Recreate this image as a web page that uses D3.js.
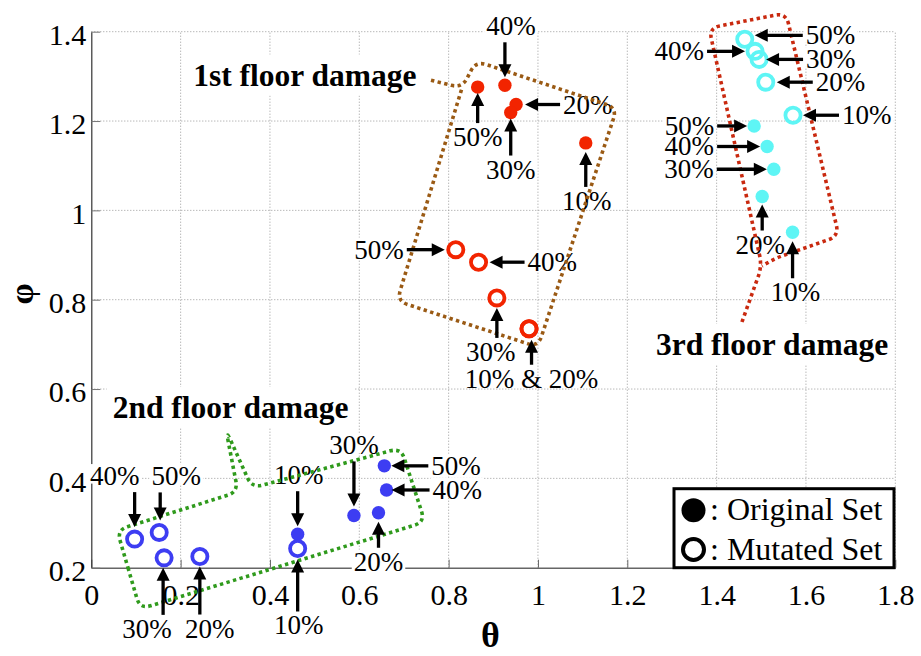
<!DOCTYPE html>
<html>
<head>
<meta charset="utf-8">
<script src="https://cdn.jsdelivr.net/npm/d3@7"></script>
<style>
  html, body { margin: 0; padding: 0; background: #fff; }
  svg { display: block; }
</style>
</head>
<body>
<svg id="chart" width="921" height="656"></svg>
<script>
// Damage levels shared by every set
const levels = ["10%", "20%", "30%", "40%", "50%"];

// 1st floor damage (theta, phi), one entry per damage level
const f1OrigTheta = [1.107, 0.951, 0.939, 0.926, 0.865];
const f1OrigPhi   = [1.151, 1.237, 1.219, 1.280, 1.276];
const f1MutTheta  = [0.980, 0.980, 0.908, 0.867, 0.816];
const f1MutPhi    = [0.735, 0.735, 0.804, 0.884, 0.912];

// 2nd floor damage
const f2OrigTheta = [0.462, 0.643, 0.588, 0.661, 0.656];
const f2OrigPhi   = [0.275, 0.323, 0.317, 0.374, 0.428];
const f2MutTheta  = [0.462, 0.243, 0.163, 0.097, 0.152];
const f2MutPhi    = [0.243, 0.225, 0.222, 0.264, 0.279];

// 3rd floor damage
const f3OrigTheta = [1.570, 1.502, 1.528, 1.513, 1.484];
const f3OrigPhi   = [0.951, 1.031, 1.092, 1.143, 1.189];
const f3MutTheta  = [1.571, 1.510, 1.495, 1.486, 1.463];
const f3MutPhi    = [1.213, 1.287, 1.338, 1.356, 1.383];

// Axis ticks
const xTicks = [0, 0.2, 0.4, 0.6, 0.8, 1.0, 1.2, 1.4, 1.6, 1.8];
const xTickLabels = ["0", "0.2", "0.4", "0.6", "0.8", "1", "1.2", "1.4", "1.6", "1.8"];
const yTicks = [0.2, 0.4, 0.6, 0.8, 1.0, 1.2, 1.4];
const yTickLabels = ["0.2", "0.4", "0.6", "0.8", "1", "1.2", "1.4"];

// Cluster outlines drawn around each floor's points (theta, phi)
const f1Outline = [[0.7605, 1.2914], [0.8299, 1.2739], [0.8612, 1.3343], [1.1769, 1.2291],
                   [1.0000, 0.6940], [0.6844, 0.7970], [0.8299, 1.2739]];
const f2Outline = [[0.0833, 0.1960], [0.0575, 0.2844], [0.3284, 0.3695], [0.3016, 0.5083],
                   [0.3598, 0.3785], [0.6933, 0.4680], [0.7470, 0.3023], [0.1090, 0.1075],
                   [0.0833, 0.1960]];
const f3Outline = [[1.4567, 0.7501], [1.5015, 0.8755], [1.3828, 1.4082], [1.5552, 1.4418],
                   [1.6738, 0.9426], [1.5328, 0.8933], [1.5015, 0.8755]];

// Cluster titles: text and where the text starts (theta, phi of baseline)
const titles = [
  { text: "1st floor damage", at: [0.2281, 1.2795] },
  { text: "2nd floor damage", at: [0.0479, 0.5351] },
  { text: "3rd floor damage", at: [1.2642, 0.6762] }
];

// Arrow call-outs: which level, side the arrow comes from, gap / length in px
const f1OrigNotes = [
  { i: 0, side: "S", gap: 9, len: 35, dx: 1 },
  { i: 1, side: "E", gap: 9, len: 35 },
  { i: 2, side: "S", gap: 6, len: 37 },
  { i: 3, side: "N", gap: 8, len: 35, dx: 6 },
  { i: 4, side: "S", gap: 6, len: 30 }
];
const f1MutNotes = [
  { i: 0, also: 1, side: "S", gap: 11, len: 25, off: 2.5, bg: false },
  { i: 2, side: "S", gap: 10, len: 30, dx: -6 },
  { i: 3, side: "E", gap: 11, len: 35 },
  { i: 4, side: "W", gap: 11, len: 38 }
];
const f2OrigNotes = [
  { i: 0, side: "N", gap: 8, len: 35, dx: 1 },
  { i: 1, side: "S", gap: 9, len: 26 },
  { i: 2, side: "N", gap: 9, len: 45 },
  { i: 3, side: "E", gap: 5, len: 38 },
  { i: 4, side: "E", gap: 7, len: 37 }
];
const f2MutNotes = [
  { i: 0, side: "S", gap: 11, len: 52, dx: 1 },
  { i: 1, side: "S", gap: 10, len: 48, dx: 10 },
  { i: 2, side: "S", gap: 10, len: 47, dx: -16, off: -1 },
  { i: 3, side: "N", gap: 12, len: 35, dx: -20 },
  { i: 4, side: "N", gap: 12, len: 28, dx: 16, off: 1 }
];
const f3OrigNotes = [
  { i: 0, side: "S", gap: 9, len: 37, dx: 3 },
  { i: 1, side: "S", gap: 8, len: 26, dx: -2 },
  { i: 2, side: "W", gap: 7, len: 50 },
  { i: 3, side: "W", gap: 7, len: 43 },
  { i: 4, side: "W", gap: 7, len: 30 }
];
const f3MutNotes = [
  { i: 0, side: "E", gap: 10, len: 36 },
  { i: 1, side: "E", gap: 11, len: 36 },
  { i: 2, side: "E", gap: 7, len: 37 },
  { i: 3, side: "W", gap: 10, len: 38 },
  { i: 4, side: "E", gap: 10, len: 48, off: -4 }
];

const RED = "#f22400", BLUE = "#3d3df2", CYAN = "#5ef5f5";
const series = [
  { theta: f1OrigTheta, phi: f1OrigPhi, color: RED,  open: false, notes: f1OrigNotes },
  { theta: f1MutTheta,  phi: f1MutPhi,  color: RED,  open: true,  notes: f1MutNotes },
  { theta: f2OrigTheta, phi: f2OrigPhi, color: BLUE, open: false, notes: f2OrigNotes },
  { theta: f2MutTheta,  phi: f2MutPhi,  color: BLUE, open: true,  notes: f2MutNotes },
  { theta: f3OrigTheta, phi: f3OrigPhi, color: CYAN, open: false, notes: f3OrigNotes },
  { theta: f3MutTheta,  phi: f3MutPhi,  color: CYAN, open: true,  notes: f3MutNotes }
];
const outlines = [
  { pts: f1Outline, color: "#9a5a14" },
  { pts: f2Outline, color: "#2f9a1c" },
  { pts: f3Outline, color: "#c9290f" }
];

const SERIF = '"Liberation Serif", "Times New Roman", Times, serif';
const svg = d3.select("#chart").attr("font-family", SERIF);

const x = d3.scaleLinear().domain([0, 1.8]).range([91.3, 895.3]);
const y = d3.scaleLinear().domain([0.2, 1.4]).range([567.7, 31.7]);

// Dotted grid
const grid = svg.append("g").attr("stroke", "#9a9a9a").attr("stroke-width", 1)
  .attr("stroke-dasharray", "1 2");
grid.selectAll(".gx").data(xTicks.filter(d => d > 0)).join("line")
  .attr("x1", d => x(d)).attr("x2", d => x(d))
  .attr("y1", y(0.2)).attr("y2", y(1.4));
grid.selectAll(".gy").data(yTicks.filter(d => d > 0.2)).join("line")
  .attr("y1", d => y(d)).attr("y2", d => y(d))
  .attr("x1", x(0)).attr("x2", x(1.8));

// Axes
const gx = svg.append("g").attr("transform", `translate(0,${y(0.2)})`)
  .call(d3.axisBottom(x).tickValues(xTicks).tickFormat((d, i) => xTickLabels[i])
    .tickSizeInner(-8).tickSizeOuter(0).tickPadding(16));
gx.attr("font-family", SERIF).attr("font-size", 30);
gx.select(".domain").attr("stroke", "#666").attr("stroke-width", 1.4);
gx.selectAll(".tick line").attr("stroke", "#666");
gx.selectAll(".tick text").attr("fill", "#000");

const gy = svg.append("g").attr("transform", `translate(${x(0)},0)`)
  .call(d3.axisLeft(y).tickValues(yTicks).tickFormat((d, i) => yTickLabels[i])
    .tickSizeInner(-9).tickSizeOuter(0).tickPadding(5));
gy.attr("font-family", SERIF).attr("font-size", 30);
gy.select(".domain").attr("stroke", "#333").attr("stroke-width", 1.2);
gy.selectAll(".tick line").attr("stroke", "#777");
gy.selectAll(".tick text").attr("fill", "#000").attr("dy", "0.43em");

// Axis titles
svg.append("text").attr("x", 490.5).attr("y", 647).attr("text-anchor", "middle")
  .attr("font-size", 36).attr("font-weight", "bold").text("θ");
svg.append("text").attr("transform", "translate(33,294) rotate(-90)")
  .attr("text-anchor", "middle").attr("font-size", 34).attr("font-weight", "bold").text("φ");

// Text with an optional white backing box
function label(g, txt, px, py, anchor, size, bold, bg, padX, padY) {
  const t = g.append("text").attr("x", px).attr("y", py).attr("text-anchor", anchor)
    .attr("font-size", size).attr("font-weight", bold ? "bold" : "normal")
    .attr("fill", "#000").text(txt);
  if (bg) {
    const bb = t.node().getBBox();
    let top, h;
    if (padY == null) { top = py - 0.78 * size; h = 0.78 * size - 1.5; }
    else { top = bb.y - padY; h = bb.height + 2 * padY; }
    g.insert("rect", () => t.node())
      .attr("x", bb.x - padX).attr("y", top)
      .attr("width", bb.width + 2 * padX).attr("height", h)
      .attr("fill", "#fff");
  }
  return t;
}

const labels = svg.append("g");
titles.forEach(d => label(labels, d.text, x(d.at[0]), y(d.at[1]), "start", 31.5, true, true, 6, 3));

// Arrow geometry for every call-out
const DIRS = { N: [0, -1], S: [0, 1], E: [1, 0], W: [-1, 0] };
const arrows = [];
series.forEach(s => {
  s.notes.forEach(n => {
    const p = [x(s.theta[n.i]), y(s.phi[n.i])];
    const d = DIRS[n.side];
    const perp = [Math.abs(d[1]), Math.abs(d[0])];
    const off = n.off || 0;
    const tip = [p[0] + d[0] * n.gap + perp[0] * off, p[1] + d[1] * n.gap + perp[1] * off];
    const tail = [tip[0] + d[0] * n.len, tip[1] + d[1] * n.len];
    const text = n.also != null ? `${levels[n.i]} & ${levels[n.also]}` : levels[n.i];
    arrows.push({ tip, tail, d });
    const dx = n.dx || 0;
    const bg = n.bg !== false;
    if (n.side === "N") label(labels, text, tail[0] + dx, tail[1] - 7, "middle", 27, false, bg, 2);
    else if (n.side === "S") label(labels, text, tail[0] + dx, tail[1] + 23, "middle", 27, false, bg, 2);
    else if (n.side === "E") label(labels, text, tail[0] + 3, tail[1] + 9, "start", 27, false, bg, 2);
    else label(labels, text, tail[0] - 3, tail[1] + 9, "end", 27, false, bg, 2);
  });
});

// Rounded-corner dotted outlines
function roundedPath(pts, r) {
  let s = `M${pts[0][0]},${pts[0][1]}`;
  for (let k = 1; k < pts.length - 1; k++) {
    const a = pts[k - 1], c = pts[k], b = pts[k + 1];
    const l1 = Math.hypot(c[0] - a[0], c[1] - a[1]);
    const l2 = Math.hypot(b[0] - c[0], b[1] - c[1]);
    const rr = Math.min(r, l1 / 2, l2 / 2);
    const p1 = [c[0] - (c[0] - a[0]) / l1 * rr, c[1] - (c[1] - a[1]) / l1 * rr];
    const p2 = [c[0] + (b[0] - c[0]) / l2 * rr, c[1] + (b[1] - c[1]) / l2 * rr];
    s += `L${p1[0]},${p1[1]}Q${c[0]},${c[1]} ${p2[0]},${p2[1]}`;
  }
  const e = pts[pts.length - 1];
  return s + `L${e[0]},${e[1]}`;
}
svg.append("g").selectAll("path").data(outlines).join("path")
  .attr("d", o => roundedPath(o.pts.map(p => [x(p[0]), y(p[1])]), 11))
  .attr("fill", "none").attr("stroke", o => o.color)
  .attr("stroke-width", 3.6).attr("stroke-dasharray", "3.4 3.4");

// Markers
const marks = svg.append("g");
series.forEach(s => {
  marks.append("g").selectAll("circle").data(s.theta.map((t, i) => [t, s.phi[i]])).join("circle")
    .attr("cx", d => x(d[0])).attr("cy", d => y(d[1]))
    .attr("r", s.open ? 7.6 : 6.7)
    .attr("fill", s.open ? "none" : s.color)
    .attr("stroke", s.open ? s.color : "none")
    .attr("stroke-width", s.open ? 3.8 : 0);
});

// Arrows
const ag = svg.append("g");
const HL = 13, HW = 6.5;
arrows.forEach(a => {
  const base = [a.tip[0] + a.d[0] * HL, a.tip[1] + a.d[1] * HL];
  const perp = [-a.d[1], a.d[0]];
  ag.append("line").attr("x1", a.tail[0]).attr("y1", a.tail[1])
    .attr("x2", base[0] - a.d[0]).attr("y2", base[1] - a.d[1])
    .attr("stroke", "#000").attr("stroke-width", 3.3);
  ag.append("path")
    .attr("d", `M${a.tip[0]},${a.tip[1]}L${base[0] + perp[0] * HW},${base[1] + perp[1] * HW}L${base[0] - perp[0] * HW},${base[1] - perp[1] * HW}Z`)
    .attr("fill", "#000");
});

// Legend
const lw = 220, lh = 79;
const lx = x(1.8) - 1.3 - lw, ly = y(0.2) - lh;
const lg = svg.append("g").attr("transform", `translate(${lx},${ly})`);
lg.append("rect").attr("width", lw).attr("height", lh)
  .attr("fill", "#fff").attr("stroke", "#000").attr("stroke-width", 3);
lg.append("circle").attr("cx", 19.5).attr("cy", 21.5).attr("r", 12).attr("fill", "#000");
lg.append("circle").attr("cx", 19.5).attr("cy", 60.8).attr("r", 10.5)
  .attr("fill", "none").attr("stroke", "#000").attr("stroke-width", 4);
lg.append("text").attr("x", 36).attr("y", 31.5).attr("font-size", 32).text(": Original Set");
lg.append("text").attr("x", 36).attr("y", 71.5).attr("font-size", 32).text(": Mutated Set");
</script>
</body>
</html>
